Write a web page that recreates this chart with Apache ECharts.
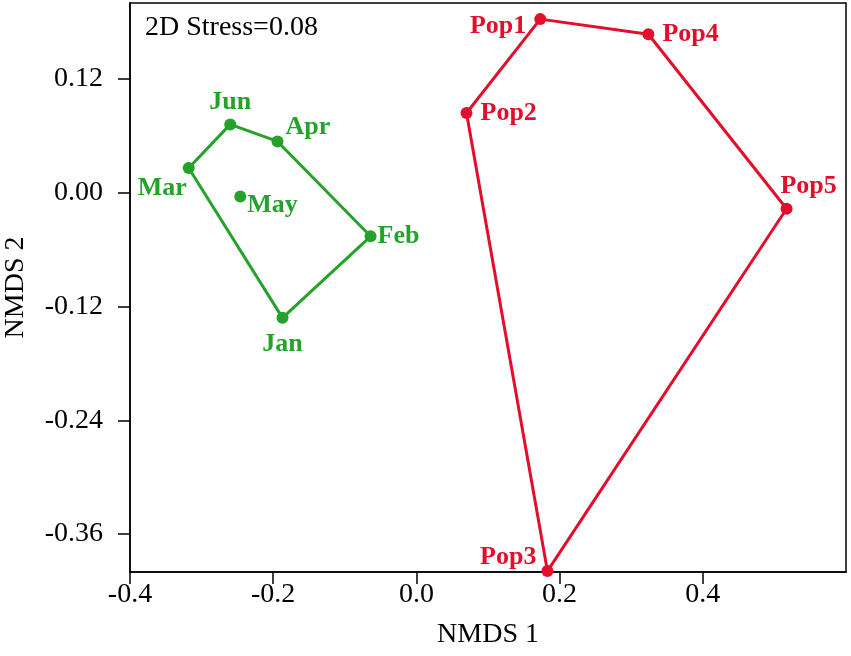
<!DOCTYPE html>
<html>
<head>
<meta charset="utf-8">
<script src="https://cdn.jsdelivr.net/npm/echarts@6/dist/echarts.min.js"></script>
<style>
  html, body { margin: 0; padding: 0; background: #fff; }
  #chart { width: 851px; height: 656px; }
</style>
</head>
<body>
<div id="chart"></div>
<script>
// NMDS ordination, months (green) vs populations (red)
const monthNames = ['Jan', 'Feb', 'Mar', 'Apr', 'May', 'Jun']
const monthX = [-0.187, -0.064, -0.318, -0.194, -0.246, -0.260]
const monthY = [-0.132, -0.046, 0.026, 0.054, -0.004, 0.072]
const monthHull = ['Mar', 'Jun', 'Apr', 'Feb', 'Jan', 'Mar']

const popNames = ['Pop1', 'Pop2', 'Pop3', 'Pop4', 'Pop5']
const popX = [0.173, 0.070, 0.183, 0.324, 0.517]
const popY = [0.183, 0.084, -0.399, 0.167, -0.017]
const popHull = ['Pop1', 'Pop4', 'Pop5', 'Pop3', 'Pop2', 'Pop1']

const xTicks = [-0.4, -0.2, 0, 0.2, 0.4]
const yTicks = [-0.36, -0.24, -0.12, 0, 0.12]
const stressText = '2D Stress=0.08'

const GREEN = '#25a22a'
const RED = '#e20e2b'
const FONT = "'Liberation Serif', 'Times New Roman', serif"

// where each point label sits
const labelPos = {
  Jun: { position: 'top', distance: 3 },
  Apr: { position: 'right', distance: 2, offset: [0, -14] },
  Mar: { position: 'left', distance: -4, offset: [0, 20] },
  May: { position: 'right', distance: 1, offset: [0, 9] },
  Feb: { position: 'right', distance: 1 },
  Jan: { position: 'bottom', distance: 7 },
  Pop1: { position: 'left', distance: 8, offset: [0, 7] },
  Pop2: { position: 'right', distance: 8 },
  Pop3: { position: 'left', distance: 5, offset: [0, -14] },
  Pop4: { position: 'right', distance: 8 },
  Pop5: { position: 'top', distance: 4, offset: [22, 0] }
}

function points(names, xs, ys, color) {
  return names.map((n, i) => ({
    name: n,
    value: [xs[i], ys[i]],
    label: Object.assign({
      show: true,
      formatter: '{b}',
      color: color,
      fontFamily: FONT,
      fontSize: 26,
      fontWeight: 'bold'
    }, labelPos[n])
  }))
}

function hull(order, names, xs, ys) {
  return order.map(n => {
    const i = names.indexOf(n)
    return [xs[i], ys[i]]
  })
}

const chart = echarts.init(document.getElementById('chart'))
chart.setOption({
  animation: false,
  grid: {
    left: 130, right: 5, top: 3, bottom: 84,
    outerBoundsMode: 'none',
    show: true, borderColor: '#000', borderWidth: 1.5
  },
  xAxis: {
    type: 'value',
    min: -0.4,
    max: 0.6,
    name: 'NMDS 1',
    nameLocation: 'middle',
    nameGap: 49,
    nameTextStyle: { fontFamily: FONT, fontSize: 28, color: '#000' },
    axisLine: { show: true, onZero: false, lineStyle: { color: '#000', width: 1.5 } },
    axisTick: { show: true, customValues: xTicks, length: 12, lineStyle: { color: '#000', width: 1.5 } },
    axisLabel: {
      customValues: xTicks,
      formatter: v => v.toFixed(1),
      fontFamily: FONT, fontSize: 28, color: '#000', margin: 9
    },
    splitLine: { show: false }
  },
  yAxis: {
    type: 'value',
    min: -0.4,
    max: 0.2,
    name: 'NMDS 2',
    nameLocation: 'middle',
    nameGap: 100,
    nameTextStyle: { fontFamily: FONT, fontSize: 28, color: '#000' },
    axisLine: { show: true, onZero: false, lineStyle: { color: '#000', width: 1.5 } },
    axisTick: { show: true, customValues: yTicks, length: 12, lineStyle: { color: '#000', width: 1.5 } },
    axisLabel: {
      customValues: yTicks,
      formatter: v => v.toFixed(2),
      fontFamily: FONT, fontSize: 28, color: '#000', margin: 27
    },
    splitLine: { show: false }
  },
  graphic: [{
    type: 'text',
    left: 145,
    top: 14,
    style: { text: stressText, fontFamily: FONT, fontSize: 28, fill: '#000' }
  }],
  series: [
    {
      type: 'line',
      data: hull(monthHull, monthNames, monthX, monthY),
      showSymbol: false,
      clip: false,
      lineStyle: { color: GREEN, width: 3 }
    },
    {
      type: 'line',
      data: hull(popHull, popNames, popX, popY),
      showSymbol: false,
      clip: false,
      lineStyle: { color: RED, width: 3 }
    },
    {
      type: 'scatter',
      data: points(monthNames, monthX, monthY, GREEN),
      symbolSize: 12,
      clip: false,
      itemStyle: { color: GREEN, opacity: 1 }
    },
    {
      type: 'scatter',
      data: points(popNames, popX, popY, RED),
      symbolSize: 12,
      clip: false,
      itemStyle: { color: RED, opacity: 1 }
    }
  ]
})
</script>
</body>
</html>
